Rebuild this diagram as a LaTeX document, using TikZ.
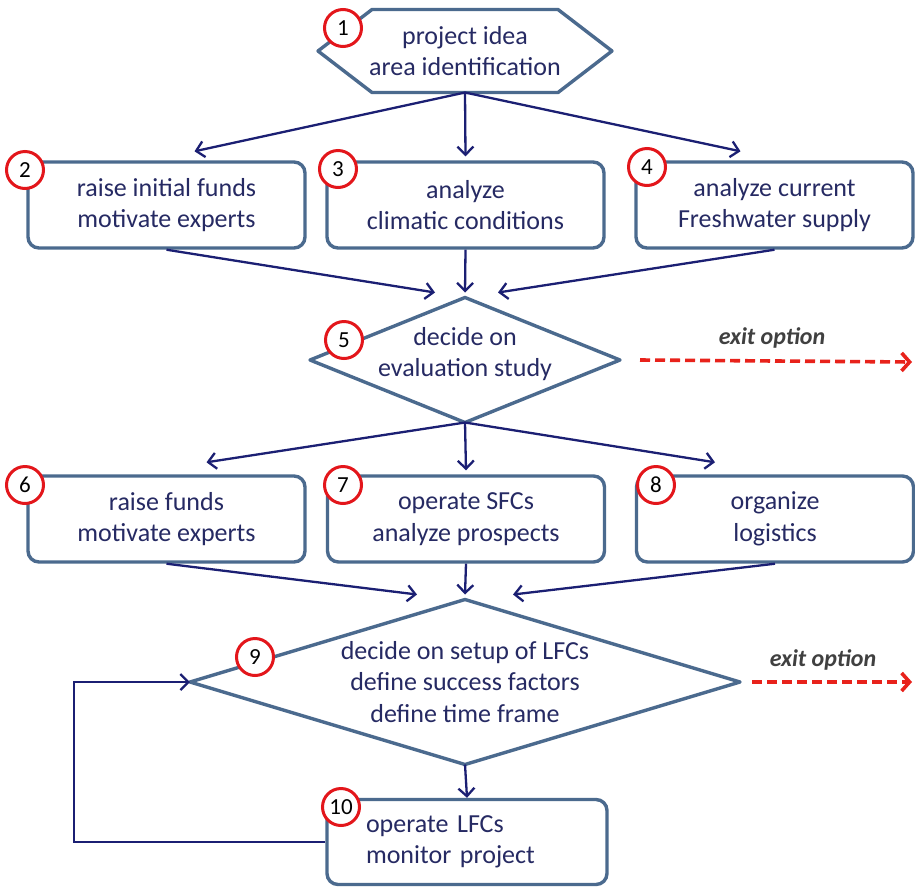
\documentclass[tikz,border=0pt]{standalone}
\usepackage{fontspec}
\setmainfont{Carlito}
\usetikzlibrary{arrows.meta,positioning}
\definecolor{ink}{HTML}{262A63}
\definecolor{frame}{HTML}{4B6A8E}
\definecolor{flowc}{HTML}{1B1F73}
\definecolor{badge}{HTML}{E3161B}
\definecolor{exitc}{HTML}{E8221B}
\definecolor{muted}{HTML}{404040}

\begin{document}
\begin{tikzpicture}[
 x=1pt,y=-1pt,
 txt/.style={font=\fontsize{26}{31.5}\selectfont,text=ink,align=center},
 plain/.style={txt,inner sep=0pt,outer sep=0pt},
 outline/.style={draw=frame,fill=white,line width=3.4pt,line join=round},
 card/.style={txt,draw=frame,line width=3.4pt,rounded corners=11pt,fill=white,minimum width=277pt,minimum height=86pt,inner sep=0pt},
 num/.style={circle,draw=badge,fill=white,line width=3pt,minimum size=37pt,inner sep=0pt,font=\fontsize{23}{26}\selectfont,text=black},
 flow/.style={-{Straight Barb[length=8pt,width=16pt]},line width=2.3pt,draw=flowc},
 exit/.style={-{Straight Barb[length=8pt,width=18pt]},line width=3.6pt,draw=exitc,dash pattern=on 10pt off 5pt},
 exittxt/.style={font=\fontsize{24}{28}\selectfont\bfseries\itshape,text=muted}
]
\useasboundingbox[fill=white] (0,0) rectangle (915,887);

% Start: hexagon.
\node[plain,minimum width=294pt,minimum height=83pt] (idea) at (465,51) {};
\draw[outline] (idea.west) -- ([xshift=54pt]idea.north west) -- ([xshift=-54pt]idea.north east)
  -- (idea.east) -- ([xshift=-54pt]idea.south east) -- ([xshift=54pt]idea.south west) -- cycle;
\node[txt] (ideatxt) at (idea) {project idea\\area identification};

% First row.
\node[card] (raise) at (166.5,205) {raise initial funds\\motivate experts};
\node[card] (climate) at (465.5,205) {analyze\\climatic conditions};
\node[card] (water) at (774.5,205) {analyze current\\Freshwater supply};

% First decision.
\node[plain,minimum width=310pt,minimum height=125pt] (evaluate) at (465,360) {};
\draw[outline] (evaluate.north) -- (evaluate.east) -- (evaluate.south) -- (evaluate.west) -- cycle;
\node[txt] (evaltxt) at (465,354) {decide on\\evaluation study};

% Second row.
\node[card] (funds) at (166.5,519) {raise funds\\motivate experts};
\node[card] (sfc) at (466,519) {operate SFCs\\analyze prospects};
\node[card] (logis) at (775,519) {organize\\logistics};

% Second decision and operation.
\node[plain,minimum width=550pt,minimum height=165pt] (setup) at (465,682) {};
\draw[outline] (setup.north) -- (setup.east) -- (setup.south) -- (setup.west) -- cycle;
\node[txt] (setuptxt) at (setup) {decide on setup of LFCs\\define success factors\\define time frame};
\node[card,align=left,text width=202pt,inner xsep=39pt,minimum height=85pt] (operate) at (467,842) {operate LFCs\\monitor project};

% Connectors.
\draw[flow] (idea.south) -- ([xshift=28pt,yshift=9pt]raise.north);
\draw[flow] (idea.south) -- ([yshift=4pt]climate.north);
\draw[flow] (idea.south) -- ([xshift=-34pt,yshift=9pt]water.north);
\draw[flow] (raise.south) -- ([xshift=-30pt,yshift=5pt]evaluate.north);
\draw[flow] (climate.south) -- ([yshift=5pt]evaluate.north);
\draw[flow] (water.south) -- ([xshift=33pt,yshift=5pt]evaluate.north);
\draw[flow] (evaluate.south) -- ([xshift=40pt,yshift=12pt]funds.north);
\draw[flow] (evaluate.south) -- ([yshift=4pt]sfc.north);
\draw[flow] (evaluate.south) -- ([xshift=-60pt,yshift=12pt]logis.north);
\draw[flow] (funds.south) -- ([xshift=-48pt,yshift=5pt]setup.north);
\draw[flow] (sfc.south) -- ([yshift=5pt]setup.north);
\draw[flow] (logis.south) -- ([xshift=48pt,yshift=5pt]setup.north);
\draw[flow] (setup.south) -- (operate.north);
\coordinate (back) at (74,842);
\draw[flow] (operate.west) -- (back) |- (setup.west);

% Exit options.
\coordinate (out1) at (912,362);
\coordinate (out2) at (912,682);
\draw[exit] ([xshift=20pt]evaluate.east) -- (out1);
\node[exittxt] (exit1) at (772,338) {exit option};
\draw[exit] ([xshift=12pt]setup.east) -- (out2);
\node[exittxt] (exit2) at (823,660) {exit option};

% Step numbers.
\node[num] (n1) at (343,28) {1};
\node[num] (n2) at (25,170) {2};
\node[num] (n3) at (338,169) {3};
\node[num] (n4) at (647,167) {4};
\node[num] (n5) at (344,340) {5};
\node[num] (n6) at (25,485) {6};
\node[num] (n7) at (343,485) {7};
\node[num] (n8) at (656,485) {8};
\node[num] (n9) at (255,657) {9};
\node[num] (n10) at (341,807) {10};
\end{tikzpicture}
\end{document}
